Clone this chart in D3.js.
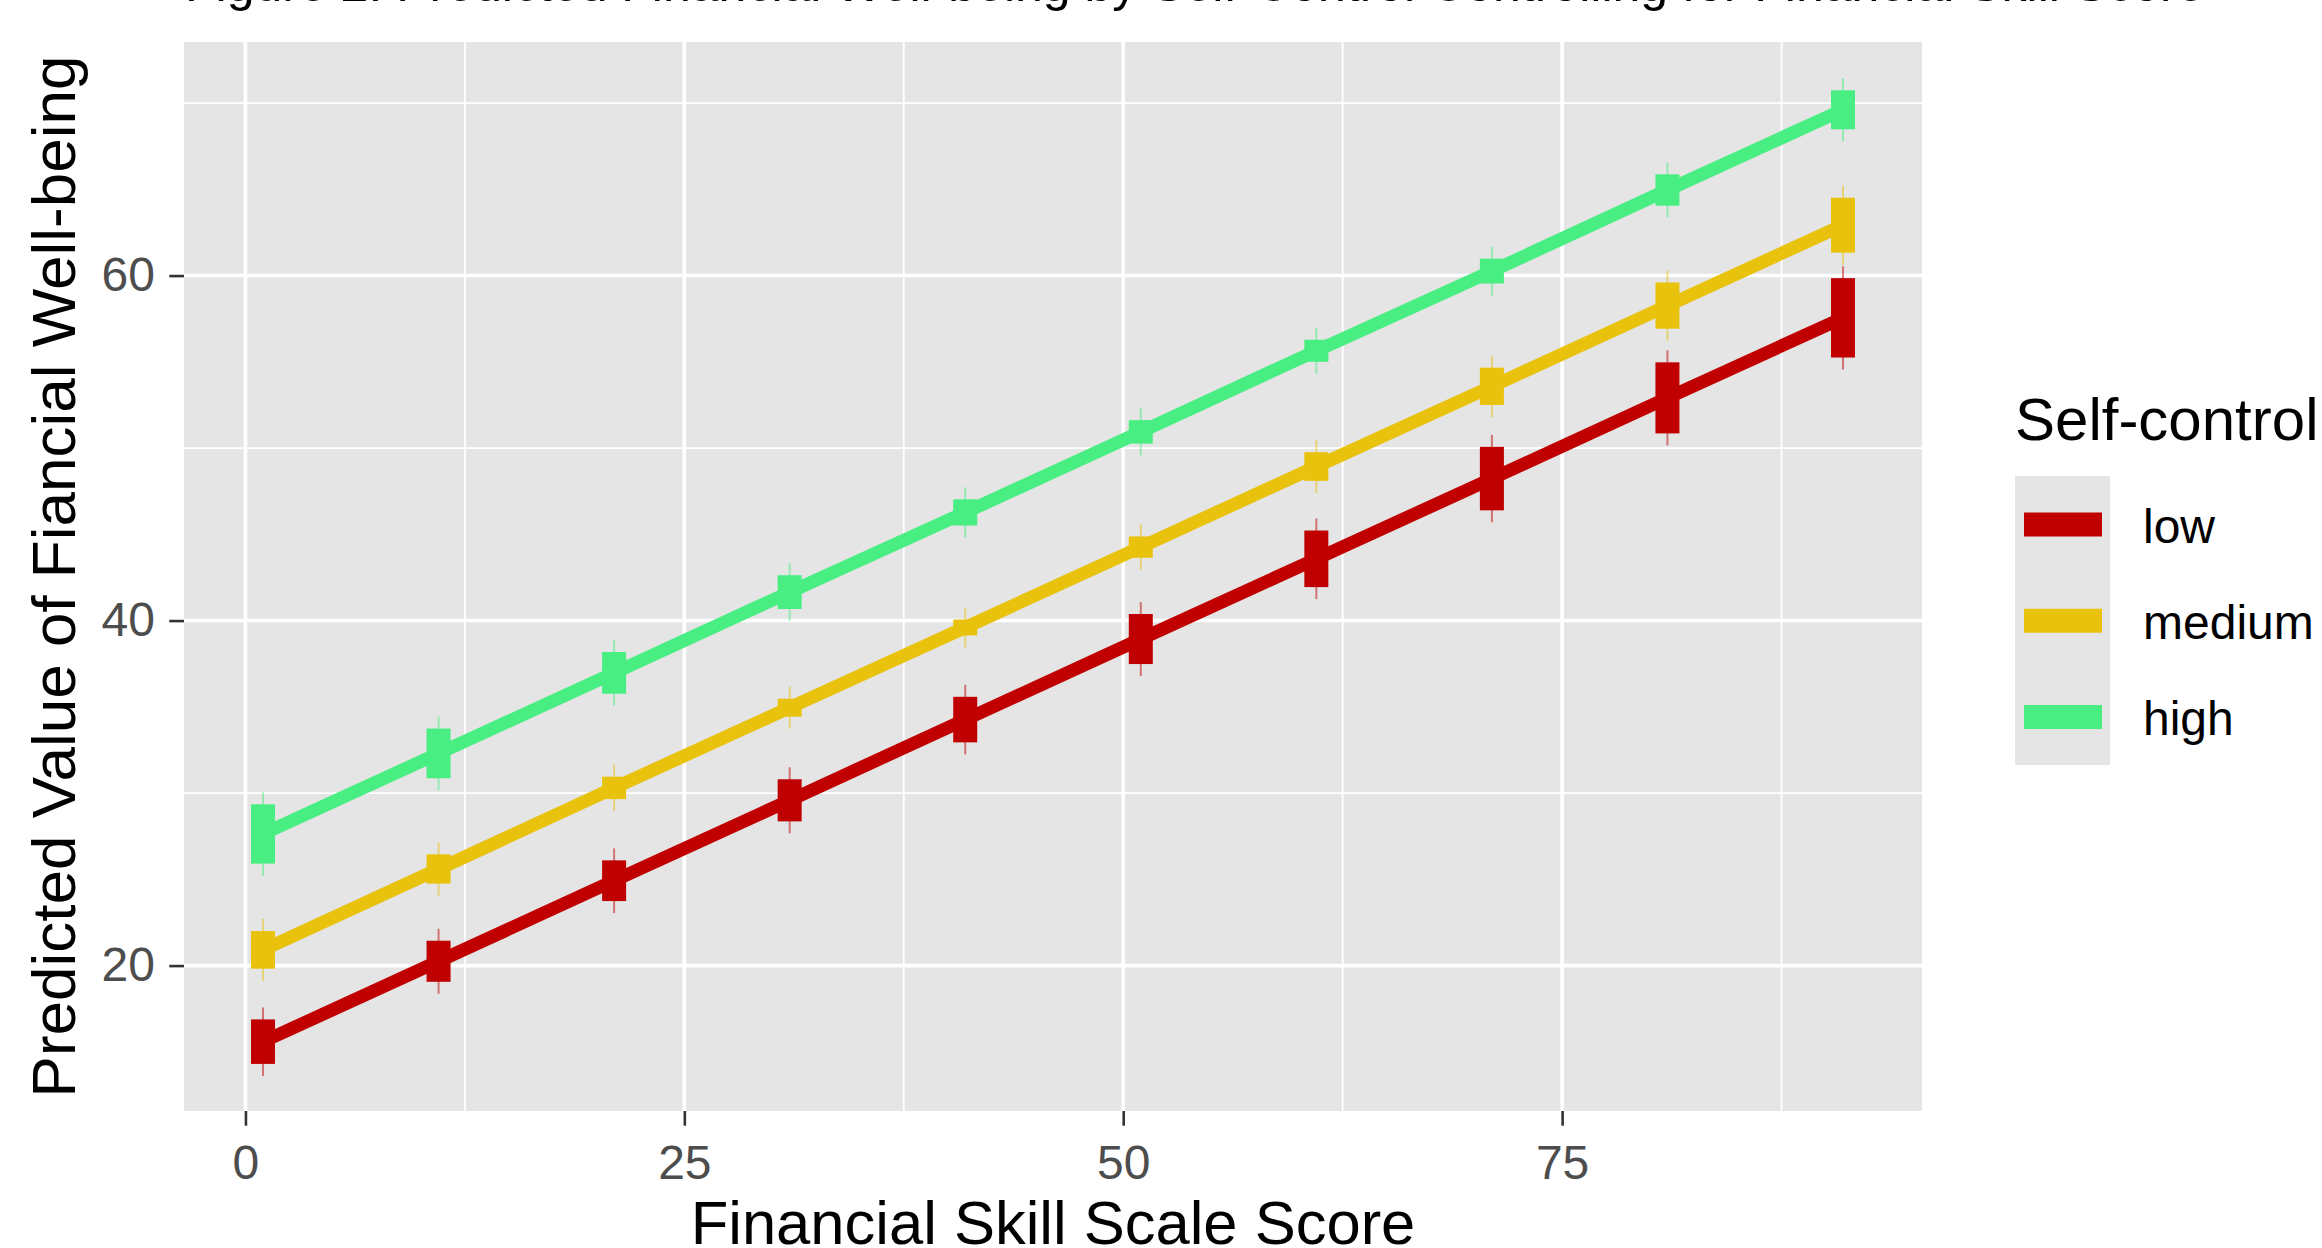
<!DOCTYPE html>
<html>
<head>
<meta charset="utf-8">
<script src="https://cdn.jsdelivr.net/npm/d3@7"></script>
<style>
  body { margin: 0; background: #fff; }
  svg { display: block; font-family: "Liberation Sans", Arial, sans-serif; }
</style>
</head>
<body>
<div id="wrapper"></div>
<script>
// values
const skillScores = [1, 11, 21, 31, 41, 51, 61, 71, 81, 91];

const lowValues    = [15.59, 20.25, 24.92, 29.58, 34.26, 38.93, 43.58, 48.23, 52.91, 57.55];
const mediumValues = [20.91, 25.60, 30.30, 34.95, 39.60, 44.26, 48.93, 53.58, 58.26, 62.92];
const highValues   = [27.63, 32.30, 36.97, 41.65, 46.27, 50.94, 55.64, 60.26, 64.96, 69.61];

// half width of the thick interval
const lowErr    = [1.29, 1.19, 1.18, 1.22, 1.32, 1.45, 1.64, 1.84, 2.06, 2.30];
const mediumErr = [1.09, 0.85, 0.65, 0.52, 0.46, 0.62, 0.83, 1.08, 1.34, 1.59];
const highErr   = [1.72, 1.44, 1.21, 0.98, 0.76, 0.68, 0.64, 0.72, 0.91, 1.13];

const seriesNames = ["low", "medium", "high"];
const xTicks = [0, 25, 50, 75];
const xMinor = [12.5, 37.5, 62.5, 87.5];
const yTicks = [20, 40, 60];
const yMinor = [30, 50, 70];

const titleText = "Figure 2. Predicted Financial Well-being by Self-Control Controlling for Financial Skill Score";
const xTitle = "Financial Skill Scale Score";
const yTitle = "Predicted Value of Fiancial Well-being";
const legendTitle = "Self-control";

const series = [
    { name: seriesNames[0], values: lowValues, err: lowErr, color: "#c00000" },
    { name: seriesNames[1], values: mediumValues, err: mediumErr, color: "#e8c20c" },
    { name: seriesNames[2], values: highValues, err: highErr, color: "#48ee82" }
];

const dimension = {
    width: 2322,
    height: 1248,
    margin: { top: 42, left: 184, bottom: 137, right: 400 }
};
dimension.boundedWidth = dimension.width - dimension.margin.left - dimension.margin.right;
dimension.boundedHeight = dimension.height - dimension.margin.top - dimension.margin.bottom;

const panelColor = "#e5e5e5";

const svg = d3.select("#wrapper").append("svg")
    .attr("width", dimension.width)
    .attr("height", dimension.height);

const xScale = d3.scaleLinear()
    .domain([-3.5, 95.5])
    .range([0, dimension.boundedWidth]);

const yScale = d3.scaleLinear()
    .domain([11.57, 73.54])
    .range([dimension.boundedHeight, 0]);

const bounded = svg.append("g")
    .attr("transform", `translate(${dimension.margin.left},${dimension.margin.top})`);

// panel + grid
bounded.append("rect")
    .attr("width", dimension.boundedWidth)
    .attr("height", dimension.boundedHeight)
    .attr("fill", panelColor);

const grid = bounded.append("g").attr("stroke", "#fff");
grid.selectAll(".xminor").data(xMinor).join("line")
    .attr("x1", d => xScale(d)).attr("x2", d => xScale(d))
    .attr("y1", 0).attr("y2", dimension.boundedHeight)
    .attr("stroke-width", 1.8);
grid.selectAll(".yminor").data(yMinor).join("line")
    .attr("y1", d => yScale(d)).attr("y2", d => yScale(d))
    .attr("x1", 0).attr("x2", dimension.boundedWidth)
    .attr("stroke-width", 1.8);
grid.selectAll(".xmajor").data(xTicks).join("line")
    .attr("x1", d => xScale(d)).attr("x2", d => xScale(d))
    .attr("y1", 0).attr("y2", dimension.boundedHeight)
    .attr("stroke-width", 3.6);
grid.selectAll(".ymajor").data(yTicks).join("line")
    .attr("y1", d => yScale(d)).attr("y2", d => yScale(d))
    .attr("x1", 0).attr("x2", dimension.boundedWidth)
    .attr("stroke-width", 3.6);

// lines
const lineGenerator = d3.line()
    .x((d, i) => xScale(skillScores[i]))
    .y(d => yScale(d));

bounded.selectAll(".series-line").data(series).join("path")
    .attr("d", s => lineGenerator(s.values))
    .attr("fill", "none")
    .attr("stroke", s => s.color)
    .attr("stroke-width", 13);

// intervals
const barWidth = 24;
const whiskerExtra = 12;
series.forEach(s => {
    const g = bounded.append("g");
    g.selectAll("line").data(s.values).join("line")
        .attr("x1", (d, i) => xScale(skillScores[i]))
        .attr("x2", (d, i) => xScale(skillScores[i]))
        .attr("y1", (d, i) => yScale(d + s.err[i]) - whiskerExtra)
        .attr("y2", (d, i) => yScale(d - s.err[i]) + whiskerExtra)
        .attr("stroke", s.color)
        .attr("stroke-opacity", 0.5)
        .attr("stroke-width", 2);
    g.selectAll("rect").data(s.values).join("rect")
        .attr("x", (d, i) => xScale(skillScores[i]) - barWidth / 2)
        .attr("width", barWidth)
        .attr("y", (d, i) => yScale(d + s.err[i]))
        .attr("height", (d, i) => yScale(d - s.err[i]) - yScale(d + s.err[i]))
        .attr("fill", s.color);
});

// axes
const xAxis = d3.axisBottom(xScale)
    .tickValues(xTicks)
    .tickSize(14.7)
    .tickPadding(19);
const yAxis = d3.axisLeft(yScale)
    .tickValues(yTicks)
    .tickSize(14.7)
    .tickPadding(14.3);

const xAxisG = bounded.append("g")
    .attr("transform", `translate(0,${dimension.boundedHeight})`)
    .call(xAxis);
const yAxisG = bounded.append("g").call(yAxis);

[xAxisG, yAxisG].forEach(a => {
    a.select(".domain").remove();
    a.selectAll(".tick line").attr("stroke", "#333").attr("stroke-width", 2.6);
    a.selectAll(".tick text")
        .attr("fill", "#4d4d4d")
        .style("font-size", "48px")
        .style("font-family", "'Liberation Sans', Arial, sans-serif");
});

// titles
svg.append("text")
    .attr("x", 185)
    .attr("y", 1)
    .style("font-size", "50px")
    .attr("fill", "#000")
    .text(titleText);

svg.append("text")
    .attr("x", dimension.margin.left + dimension.boundedWidth / 2)
    .attr("y", 1244)
    .attr("text-anchor", "middle")
    .style("font-size", "61.5px")
    .text(xTitle);

svg.append("text")
    .attr("transform", `translate(75,${dimension.margin.top + dimension.boundedHeight / 2}) rotate(-90)`)
    .attr("text-anchor", "middle")
    .style("font-size", "62px")
    .text(yTitle);

// legend
const legend = svg.append("g").attr("transform", "translate(2015,0)");
legend.append("text")
    .attr("x", 0)
    .attr("y", 440)
    .style("font-size", "60px")
    .text(legendTitle);
legend.append("rect")
    .attr("x", 0).attr("y", 476)
    .attr("width", 95).attr("height", 289)
    .attr("fill", panelColor);

const keyY = d3.scalePoint()
    .domain(seriesNames)
    .range([524.5, 717]);

legend.selectAll(".key").data(series).join("line")
    .attr("x1", 9).attr("x2", 87)
    .attr("y1", s => keyY(s.name)).attr("y2", s => keyY(s.name))
    .attr("stroke", s => s.color)
    .attr("stroke-width", 24);

legend.selectAll(".key-label").data(series).join("text")
    .attr("x", 128)
    .attr("y", s => keyY(s.name) + 18)
    .style("font-size", "48px")
    .text(s => s.name);
</script>
</body>
</html>
